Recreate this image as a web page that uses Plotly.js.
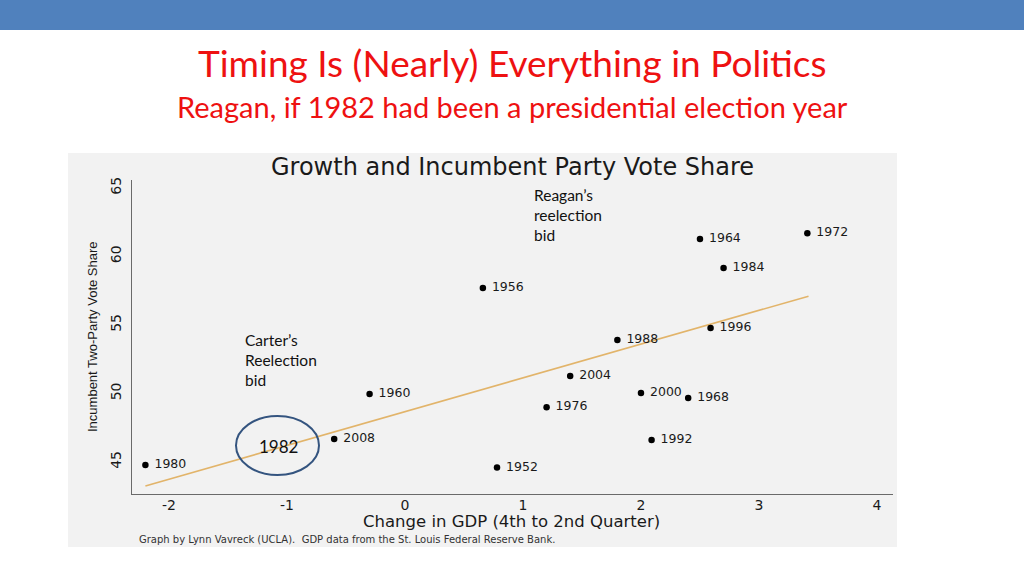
<!DOCTYPE html>
<html>
<head>
<meta charset="utf-8">
<script src="https://cdn.plot.ly/plotly-3.0.1.min.js"></script>
<style>
html,body{margin:0;padding:0;background:#fff;}
#chart{width:1024px;height:576px;}
</style>
</head>
<body>
<div id="chart"></div>
<script>
// ---- data ----
const years = ["1980","2008","1960","1956","1964","1972","1984","1996","1988","2004","2000","1968","1976","1992","1952"];
const gdpChange = [-2.20,-0.60,-0.30,0.66,2.50,3.41,2.70,2.59,1.80,1.40,2.00,2.40,1.20,2.09,0.78];
const voteShare = [44.78,46.68,49.96,57.70,61.28,61.70,59.16,54.78,53.90,51.28,50.04,49.67,49.00,46.60,44.60];
const fitX = [-2.20, 3.42];
const fitY = [43.25, 57.10];
const xTicks = [-2,-1,0,1,2,3,4];
const yTicks = [45,50,55,60,65];

// ---- geometry helpers (pixel -> paper) ----
const L = 132, R = 893, T = 180, B = 494;
const W = 1024, H = 576;
const px = v => (v - L) / (R - L);
const py = v => (B - v) / (B - T);

const stataFont = "Liberation Sans, Arial, sans-serif";
const wideFont = "DejaVu Sans, Verdana, sans-serif";
const slideFont = "Lato, Carlito, Calibri, sans-serif";

const traces = [
  {
    x: fitX, y: fitY, mode: "lines", type: "scatter",
    line: {color: "#e2b46a", width: 1.6}, hoverinfo: "skip", showlegend: false
  },
  {
    x: gdpChange, y: voteShare, text: years.map(s => " " + s), mode: "markers+text", type: "scatter",
    marker: {color: "#000", size: 6.5},
    textposition: "middle right",
    textfont: {family: wideFont, size: 12.5, color: "#1a1a1a"},
    showlegend: false, cliponaxis: false
  }
];

const layout = {
  width: W, height: H,
  margin: {l: L, r: W - R, t: T, b: H - B, pad: 0},
  paper_bgcolor: "#ffffff",
  plot_bgcolor: "rgba(0,0,0,0)",
  showlegend: false,
  xaxis: {
    range: [-2.3136, 4.136], tickvals: xTicks, ticktext: xTicks.map(String),
    showgrid: false, zeroline: false, showline: true, linecolor: "#6a6a6a", linewidth: 1,
    ticks: "", ticklabelstandoff: -2,
    tickfont: {family: wideFont, size: 14, color: "#1a1a1a"}
  },
  yaxis: {
    range: [42.664, 65.58], tickvals: yTicks, ticktext: yTicks.map(String),
    showgrid: false, zeroline: false, showline: true, linecolor: "#6a6a6a", linewidth: 1,
    ticks: "", tickangle: -90, ticklabelstandoff: 4,
    tickfont: {family: wideFont, size: 14, color: "#1a1a1a"}
  },
  shapes: [
    {type: "rect", xref: "paper", yref: "paper", x0: px(0), x1: px(W), y0: py(0), y1: py(30),
     fillcolor: "#5081bd", line: {width: 0}, layer: "below"},
    {type: "rect", xref: "paper", yref: "paper", x0: px(68), x1: px(897), y0: py(547), y1: py(153),
     fillcolor: "#f2f2f2", line: {width: 0}, layer: "below"},
    {type: "circle", xref: "paper", yref: "paper", x0: px(236), x1: px(319), y0: py(475), y1: py(416),
     line: {color: "#34547f", width: 2}, fillcolor: "rgba(0,0,0,0)"}
  ],
  annotations: [
    {text: "Timing Is (Nearly) Everything in Politics", xref: "paper", yref: "paper",
     x: px(512), y: py(62), xanchor: "center", yanchor: "middle", showarrow: false,
     font: {family: slideFont, size: 37, color: "#ee1111"}},
    {text: "Reagan, if 1982 had been a presidential election year", xref: "paper", yref: "paper",
     x: px(512), y: py(107), xanchor: "center", yanchor: "middle", showarrow: false,
     font: {family: slideFont, size: 29, color: "#ee1111"}},
    {text: "Growth and Incumbent Party Vote Share", xref: "paper", yref: "paper",
     x: px(512), y: py(167), xanchor: "center", yanchor: "middle", showarrow: false,
     font: {family: wideFont, size: 24, color: "#1a1a1a"}},
    {text: "Change in GDP (4th to 2nd Quarter)", xref: "paper", yref: "paper",
     x: px(511), y: py(521), xanchor: "center", yanchor: "middle", showarrow: false,
     font: {family: wideFont, size: 16.5, color: "#1a1a1a"}},
    {text: "Incumbent Two-Party Vote Share", xref: "paper", yref: "paper",
     x: px(92), y: py(337), xanchor: "center", yanchor: "middle", showarrow: false, textangle: -90,
     font: {family: stataFont, size: 13, color: "#1a1a1a"}},
    {text: "Graph by Lynn Vavreck (UCLA).  GDP data from the St. Louis Federal Reserve Bank.", xref: "paper", yref: "paper",
     x: px(137), y: py(539), xanchor: "left", yanchor: "middle", showarrow: false,
     font: {family: wideFont, size: 10, color: "#333"}},
    {text: "Reagan’s<br>reelection<br>bid", xref: "paper", yref: "paper",
     x: px(532), y: py(184), xanchor: "left", yanchor: "top", align: "left", showarrow: false,
     font: {family: slideFont, size: 15.5, color: "#111"}},
    {text: "Carter’s<br>Reelection<br>bid", xref: "paper", yref: "paper",
     x: px(243), y: py(329), xanchor: "left", yanchor: "top", align: "left", showarrow: false,
     font: {family: slideFont, size: 15.5, color: "#111"}},
    {text: "1982", xref: "paper", yref: "paper",
     x: px(278), y: py(446), xanchor: "center", yanchor: "middle", showarrow: false,
     font: {family: slideFont, size: 17, color: "#111"}}
  ]
};

Plotly.newPlot("chart", traces, layout, {staticPlot: true, displayModeBar: false});
</script>
</body>
</html>
